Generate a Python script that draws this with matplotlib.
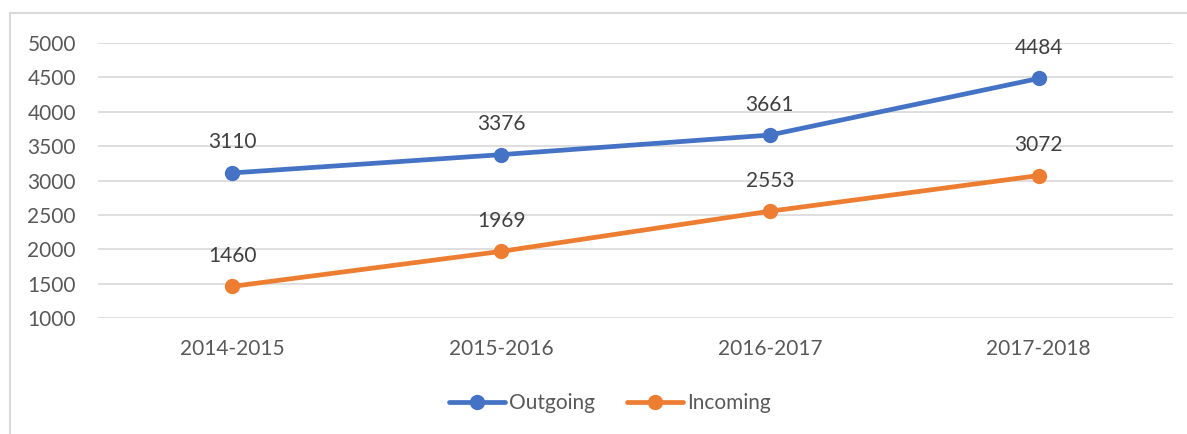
import matplotlib.pyplot as plt
from matplotlib.patches import Rectangle

plt.rcParams['font.family'] = ['Lato', 'DejaVu Sans']

years = ['2014-2015', '2015-2016', '2016-2017', '2017-2018']
outgoing = [3110, 3376, 3661, 4484]
incoming = [1460, 1969, 2553, 3072]

blue = '#4472C4'
orange = '#ED7D31'

fig = plt.figure(figsize=(11.87, 4.34), dpi=100)
ax = fig.add_axes([0.0826, 0.2673, 0.9056, 0.6336])

# light frame around the chart area
fig.patches.append(Rectangle((10 / 1187, -0.1), 1.2, 1.1 - 13 / 434,
                             transform=fig.transFigure, fill=False,
                             edgecolor='#d9d9d9', linewidth=1.5))

x = range(len(years))
ax.plot(x, outgoing, color=blue, lw=3.4, marker='o', ms=10, label='Outgoing',
        solid_capstyle='round', zorder=3)
ax.plot(x, incoming, color=orange, lw=3.4, marker='o', ms=10, label='Incoming',
        solid_capstyle='round', zorder=3)

for series in (outgoing, incoming):
    for i, v in enumerate(series):
        ax.annotate(str(v), (i, v), xytext=(0, 22), textcoords='offset points',
                    ha='center', va='center', fontsize=15, color='#404040')

ax.set_xlim(-0.5, 3.5)
ax.set_ylim(1000, 5000)
ax.set_yticks(range(1000, 5001, 500))
ax.set_xticks(list(x))
ax.set_xticklabels(years)
ax.grid(axis='y', color='#d9d9d9', lw=1.2)
ax.set_axisbelow(True)
for s in ax.spines.values():
    s.set_visible(False)
ax.tick_params(length=0, labelsize=15, colors='#595959')
ax.tick_params(axis='y', pad=16)
ax.tick_params(axis='x', pad=15)

fig.legend(loc='center', bbox_to_anchor=(610 / 1187, 1 - 403 / 434),
           ncol=2, frameon=False, fontsize=15, handlelength=2.7,
           handletextpad=0.2, columnspacing=1.5, labelcolor='#595959')

plt.savefig('out.png', dpi=100)
